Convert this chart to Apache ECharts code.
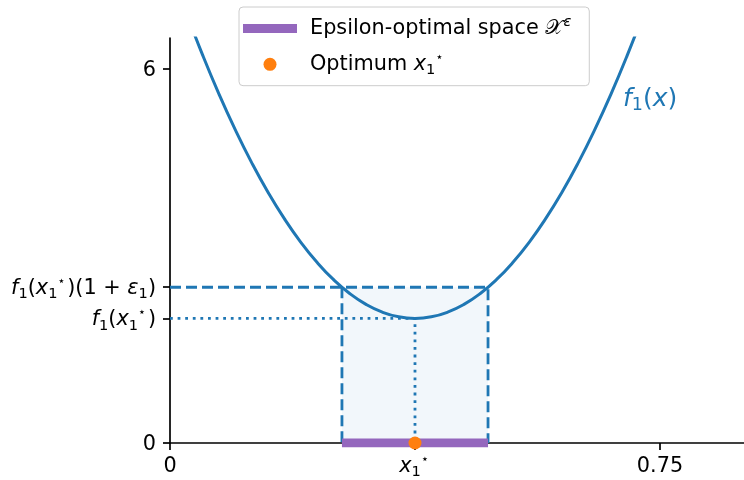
<!DOCTYPE html>
<html>
<head>
<meta charset="utf-8">
<script src="https://cdn.jsdelivr.net/npm/echarts@6/dist/echarts.min.js"></script>
<style>
  html, body { margin: 0; padding: 0; background: #fff; }
  #chart { width: 744px; height: 480px; }
</style>
</head>
<body>
<div id="chart"></div>
<script>
// curve f1(x), points
const curveX = [0.025, 0.05, 0.075, 0.1, 0.125, 0.15, 0.175, 0.2, 0.225, 0.25, 0.275, 0.3, 0.325, 0.35,
  0.375, 0.4, 0.425, 0.45, 0.475, 0.5, 0.525, 0.55, 0.575, 0.6, 0.625, 0.65, 0.675, 0.7, 0.725]
const curveY = [6.9, 6.225, 5.6, 5.025, 4.5, 4.025, 3.6, 3.225, 2.9, 2.625, 2.4, 2.225, 2.1, 2.025,
  2.0, 2.025, 2.1, 2.225, 2.4, 2.625, 2.9, 3.225, 3.6, 4.025, 4.5, 5.025, 5.6, 6.225, 6.9]

// optimum and epsilon level
const optimum = [0.375, 2.0]
const epsLevel = 2.5
const epsRange = [0.2632, 0.4868]

// ticks
const xTicks = [0, 0.375, 0.75]
const yTicks = [0, 2, 2.5, 6]
const curveLabelPos = [0.6934, 5.52]

const BLUE = '#1f77b4'
const ORANGE = '#ff7f0e'
const PURPLE = '#9467bd'
const FONT = 'DejaVu Sans'
const FS = 20.8

// rich styles for math-like text
const mathRich = (size, color) => {
  const sub = Math.round(size * 0.7 * 10) / 10
  const star = Math.round(size * 0.6 * 10) / 10
  return {
    n: { fontSize: size, fontFamily: FONT, color, lineHeight: size + 6 },
    i: { fontSize: size, fontFamily: FONT, fontStyle: 'italic', color, lineHeight: size + 6 },
    s: { fontSize: sub, fontFamily: FONT, color, verticalAlign: 'bottom', lineHeight: sub },
    u: { fontSize: star, fontFamily: FONT, color, verticalAlign: 'top', lineHeight: star, padding: [0, 2, 0, 0] },
    c: { fontSize: size, fontFamily: FONT, color, lineHeight: size + 6 },
    e: { fontSize: sub, fontFamily: FONT, fontStyle: 'italic', color, verticalAlign: 'top', lineHeight: sub },
    pad: { fontSize: size, fontFamily: FONT, color, lineHeight: size + 6, padding: [0, 0, 0, 8] }
  }
}

const xLabel = (v) => {
  if (Math.abs(v - optimum[0]) < 1e-6) return '{i|x}{s|1}{u|⋆}'
  return '{n|' + v + '}'
}
const yLabel = (v) => {
  if (Math.abs(v - epsLevel) < 1e-6) return '{i|f}{s|1}{n|(}{i|x}{s|1}{u|⋆}{n|)(1 + }{i|ε}{s|1}{n|)}'
  if (Math.abs(v - optimum[1]) < 1e-6) return '{i|f}{s|1}{n|(}{i|x}{s|1}{u|⋆}{n|)}'
  return '{n|' + v + '}'
}

const chart = echarts.init(document.getElementById('chart'))

const option = {
  animation: false,
  backgroundColor: '#fff',
  grid: { left: 170, right: 0, top: 38, bottom: 37, containLabel: false },
  legend: {
    orient: 'vertical',
    left: 239,
    top: 7,
    padding: [8, 18, 8, 4],
    itemGap: 12,
    itemWidth: 54,
    itemHeight: 13,
    borderColor: '#cccccc',
    borderWidth: 1,
    borderRadius: 4,
    backgroundColor: 'rgba(255,255,255,0.8)',
    data: [
      { name: 'eps', icon: 'path://M0,0L54,0L54,9L0,9Z' },
      { name: 'opt', icon: 'circle' }
    ],
    formatter: (name) => name === 'eps'
      ? '{pad|Epsilon-optimal space }{c|𝒳}{e|ε}'
      : '{pad|Optimum }{i|x}{s|1}{u|⋆}',
    textStyle: { rich: mathRich(FS, '#000') }
  },
  xAxis: {
    type: 'value',
    min: 0,
    max: 0.8786,
    splitLine: { show: false },
    axisLine: { onZero: false, lineStyle: { color: '#000', width: 1.7 } },
    axisTick: { customValues: xTicks, length: 7, lineStyle: { color: '#000', width: 1.7 } },
    axisLabel: {
      customValues: xTicks,
      margin: 10,
      formatter: xLabel,
      rich: mathRich(FS, '#000')
    }
  },
  yAxis: {
    type: 'value',
    min: 0,
    max: 6.5,
    splitLine: { show: false },
    axisLine: { onZero: false, lineStyle: { color: '#000', width: 1.7 } },
    axisTick: { customValues: yTicks, length: 7, lineStyle: { color: '#000', width: 1.7 } },
    axisLabel: {
      customValues: yTicks,
      margin: 14,
      padding: [3, 0, 0, 0],
      formatter: yLabel,
      rich: mathRich(FS, '#000')
    }
  },
  series: [
    {
      name: 'dashed',
      type: 'line',
      symbol: 'none',
      silent: true,
      z: 2,
      lineStyle: { color: BLUE, width: 2.8, type: [11, 5] },
      data: [[0, epsLevel], [epsRange[1], epsLevel], [epsRange[1], 0], '-', [epsRange[0], epsLevel], [epsRange[0], 0]],
      markArea: {
        silent: true,
        itemStyle: { color: 'rgba(31,119,180,0.06)' },
        data: [[{ coord: [epsRange[0], 0] }, { coord: [epsRange[1], epsLevel] }]]
      }
    },
    {
      name: 'dotted',
      type: 'line',
      symbol: 'none',
      silent: true,
      z: 2,
      lineStyle: { color: BLUE, width: 2.8, type: [2.8, 4.8] },
      data: [[0, optimum[1]], [optimum[0], optimum[1]], [optimum[0], 0]]
    },
    {
      name: 'curve',
      type: 'line',
      symbol: 'none',
      smooth: true,
      silent: true,
      z: 3,
      lineStyle: { color: BLUE, width: 3 },
      data: curveX.map((x, k) => [x, curveY[k]]),
      markPoint: {
        symbolSize: 0,
        silent: true,
        label: {
          show: true,
          position: 'right',
          distance: 0,
          formatter: '{i|f}{s|1}{n|(}{i|x}{n|)}',
          rich: mathRich(25, BLUE)
        },
        data: [{ coord: curveLabelPos }]
      }
    },
    {
      name: 'eps',
      type: 'line',
      symbol: 'none',
      silent: true,
      z: 4,
      color: PURPLE,
      lineStyle: { color: PURPLE, width: 9 },
      data: [[epsRange[0], 0], [epsRange[1], 0]]
    },
    {
      name: 'opt',
      type: 'scatter',
      symbolSize: 13,
      silent: true,
      z: 5,
      itemStyle: { color: ORANGE, opacity: 1 },
      data: [[optimum[0], 0]]
    }
  ]
}

chart.setOption(option)
window.addEventListener('resize', () => chart.resize())
</script>
</body>
</html>
